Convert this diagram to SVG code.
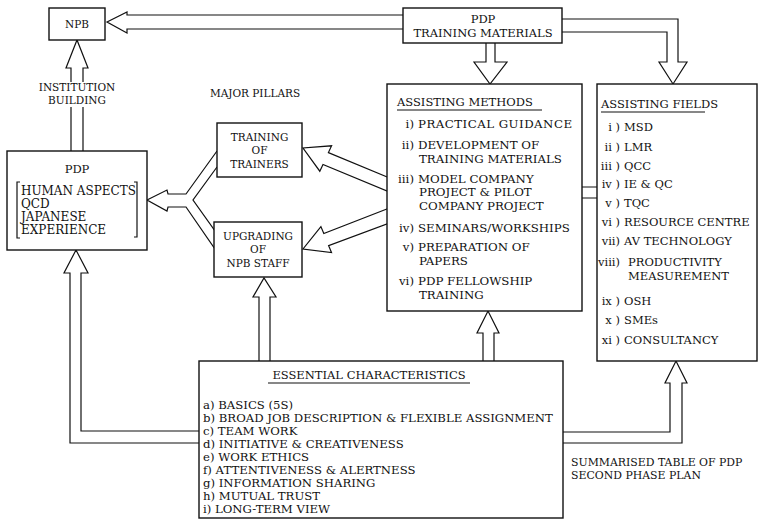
<svg xmlns="http://www.w3.org/2000/svg" width="762" height="520" viewBox="0 0 762 520">
<style>
.box{fill:#fff;stroke:#111;stroke-width:1.4}
.arr{fill:#fff;stroke:#111;stroke-width:1.2;stroke-linejoin:miter}
.ln{fill:none;stroke:#111;stroke-width:1.2}
text{font-family:"DejaVu Serif","Liberation Serif",serif;fill:#111;font-size:11.5px}
.c{text-anchor:middle}
.e{text-anchor:end}
.big{font-size:12px}
.sm{font-size:10.5px}
.es{font-size:11.7px}
.m{font-size:11.8px}
.s2{font-size:10.9px}
</style>
<rect width="762" height="520" fill="#fff"/>
<g id="connectors">
  <path class="arr" d="M403,15 H127 V12 L107,22 L127,33 V29 H403"/>
  <path class="arr" d="M71,82 V68 H66 L77,40 L88,68 H83 V82"/>
  <path class="ln" d="M71,107 V151 M83,107 V151"/>
  <path class="arr" d="M486,43 V62 H474 L490,84 L507,62 H495 V43"/>
  <path class="arr" d="M562,19 H678 V62 H687 L673,84 L659,62 H667 V32 H562"/>
  <path class="arr" d="M199,431 H81 V273 H88 L76,250 L64,273 H70 V443 H199"/>
  <path class="arr" d="M259,361 V297 H253 L264,278 L276,297 H270 V361"/>
  <path class="arr" d="M483,361 V333 H477 L488,311 L499,333 H494 V361"/>
  <path class="arr" d="M563,432 H670 V383 H665 L676,361 L687,383 H682 V443 H563"/>
  <path class="arr" d="M217,151 L186,194 H168 L167,190 L147,200 L167,211 L168,207 H186 L215,249 L215,231 L193,200 L217,167"/>
  <polygon class="arr" points="392,179 328.4,152.6 331.6,145.8 303,148 319.8,171.2 323,164.4 392,193"/>
  <polygon class="arr" points="392,207 323.8,233.6 320.9,226.6 303,249 331.5,252.6 328.6,245.6 392,222"/>
  <path class="ln" d="M581,187 H597 M581,198 H597"/>
</g>
<g id="npb">
  <rect class="box" x="49" y="8" width="56" height="32"/>
  <text class="c sm" x="77" y="28">NPB</text>
</g>
<g id="pdp-training-materials">
  <rect class="box" x="403" y="8" width="159" height="35"/>
  <text class="c" x="483" y="23">PDP</text>
  <text class="c" x="483" y="37">TRAINING MATERIALS</text>
</g>
<g id="labels">
  <text class="c sm" x="77" y="91">INSTITUTION</text>
  <text class="c sm" x="77" y="104">BUILDING</text>
  <text class="c sm" x="255" y="97">MAJOR PILLARS</text>
  <text class="s2" x="571" y="466">SUMMARISED TABLE OF PDP</text>
  <text class="s2" x="571" y="479">SECOND PHASE PLAN</text>
</g>
<g id="pdp">
  <rect class="box" x="7" y="151" width="140" height="99"/>
  <text class="c" x="77" y="173">PDP</text>
  <path class="ln" d="M20,182 H17 V238 H20 M134,182 H137 V237 H134"/>
  <text class="big" x="21" y="195">HUMAN ASPECTS</text>
  <text class="big" x="21" y="208">QCD</text>
  <text class="big" x="21" y="221">JAPANESE</text>
  <text class="big" x="21" y="234">EXPERIENCE</text>
</g>
<g id="training-of-trainers">
  <rect class="box" x="217" y="123" width="85" height="54"/>
  <text class="c sm" x="259.5" y="141">TRAINING</text>
  <text class="c sm" x="259.5" y="154">OF</text>
  <text class="c sm" x="259.5" y="168">TRAINERS</text>
</g>
<g id="upgrading">
  <rect class="box" x="214" y="222" width="88" height="55"/>
  <text class="c sm" x="258" y="240">UPGRADING</text>
  <text class="c sm" x="258" y="253">OF</text>
  <text class="c sm" x="258" y="267">NPB STAFF</text>
</g>
<g id="assisting-methods">
  <rect class="box" x="387" y="84" width="195" height="227"/>
  <text x="397" y="106">ASSISTING METHODS</text>
  <line class="ln" x1="397" y1="110" x2="542" y2="110"/>
  <text class="m" y="128"><tspan class="e" x="414">i)</tspan><tspan x="418" textLength="154" lengthAdjust="spacing">PRACTICAL GUIDANCE</tspan></text>
  <text class="m" y="149"><tspan class="e" x="414">ii)</tspan><tspan x="418">DEVELOPMENT OF</tspan></text>
  <text class="m" x="419" y="163">TRAINING MATERIALS</text>
  <text class="m" y="183"><tspan class="e" x="414">iii)</tspan><tspan x="418">MODEL COMPANY</tspan></text>
  <text class="m" x="419" y="196">PROJECT &amp; PILOT</text>
  <text class="m" x="419" y="210">COMPANY PROJECT</text>
  <text class="m" y="232"><tspan class="e" x="414">iv)</tspan><tspan x="418">SEMINARS/WORKSHIPS</tspan></text>
  <text class="m" y="251"><tspan class="e" x="414">v)</tspan><tspan x="418">PREPARATION OF</tspan></text>
  <text class="m" x="419" y="265">PAPERS</text>
  <text class="m" y="285"><tspan class="e" x="414">vi)</tspan><tspan x="418">PDP FELLOWSHIP</tspan></text>
  <text class="m" x="419" y="299">TRAINING</text>
</g>
<g id="assisting-fields">
  <rect class="box" x="597" y="84" width="160" height="277"/>
  <text x="601" y="108">ASSISTING FIELDS</text>
  <line class="ln" x1="601" y1="112" x2="705" y2="112"/>
  <text y="131"><tspan class="e" x="620">i )</tspan><tspan x="624">MSD</tspan></text>
  <text y="151"><tspan class="e" x="620">ii )</tspan><tspan x="624">LMR</tspan></text>
  <text y="170"><tspan class="e" x="620">iii )</tspan><tspan x="624">QCC</tspan></text>
  <text y="188"><tspan class="e" x="620">iv )</tspan><tspan x="624">IE &amp; QC</tspan></text>
  <text y="207"><tspan class="e" x="620">v )</tspan><tspan x="624">TQC</tspan></text>
  <text y="226"><tspan class="e" x="620">vi )</tspan><tspan x="624">RESOURCE CENTRE</tspan></text>
  <text y="245"><tspan class="e" x="620">vii)</tspan><tspan x="624">AV TECHNOLOGY</tspan></text>
  <text y="266"><tspan class="e" x="620">viii)</tspan><tspan x="628">PRODUCTIVITY</tspan></text>
  <text x="628" y="280">MEASUREMENT</text>
  <text y="305"><tspan class="e" x="620">ix )</tspan><tspan x="624">OSH</tspan></text>
  <text y="324"><tspan class="e" x="620">x )</tspan><tspan x="624">SMEs</tspan></text>
  <text y="344"><tspan class="e" x="620">xi )</tspan><tspan x="624">CONSULTANCY</tspan></text>
</g>
<g id="essential-characteristics">
  <rect class="box" x="199" y="361" width="364" height="157"/>
  <text class="c" x="369" y="379">ESSENTIAL CHARACTERISTICS</text>
  <line class="ln" x1="268" y1="383" x2="470" y2="383"/>
  <text class="es" x="203" y="409">a) BASICS (5S)</text>
  <text class="es" x="203" y="422">b) BROAD JOB DESCRIPTION &amp; FLEXIBLE ASSIGNMENT</text>
  <text class="es" x="203" y="435">c) TEAM WORK</text>
  <text class="es" x="203" y="448">d) INITIATIVE &amp; CREATIVENESS</text>
  <text class="es" x="203" y="461">e) WORK ETHICS</text>
  <text class="es" x="203" y="474">f) ATTENTIVENESS &amp; ALERTNESS</text>
  <text class="es" x="203" y="487">g) INFORMATION SHARING</text>
  <text class="es" x="203" y="500">h) MUTUAL TRUST</text>
  <text class="es" x="203" y="513">i) LONG-TERM VIEW</text>
</g>
</svg>
